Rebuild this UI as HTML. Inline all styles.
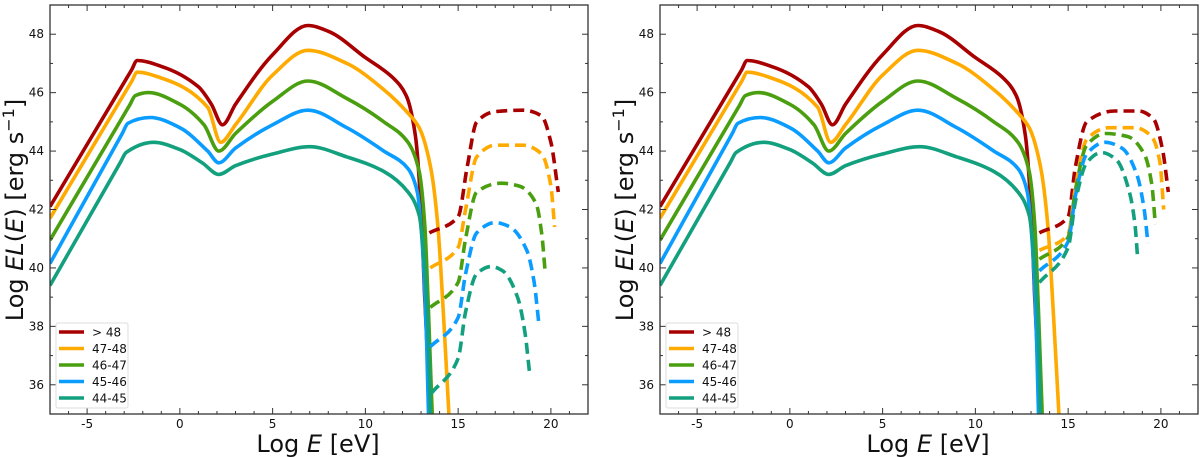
<!DOCTYPE html>
<html><head><meta charset="utf-8"><style>
html,body{margin:0;padding:0;background:#fff;}
svg{display:block;font-family:"DejaVu Sans","Liberation Sans",sans-serif;}
</style></head><body>
<svg id="chart" width="1200" height="457" viewBox="0 0 1200 457" xmlns="http://www.w3.org/2000/svg"></svg>
<script>
const seriesNames = ["> 48","47-48","46-47","45-46","44-45"];
const colors = ["#a80000","#ffaa00","#4a9f10","#0a9cff","#12a07e"];
const xTicks = [-5,0,5,10,15,20];
const yTicks = [36,38,40,42,44,46,48];
const solidX = [
 [-7,-2.6,-2.3,-1,1,1.7,2.3,3,5,6.9,8,10,11.5,12.2,12.7,13.0,13.2,13.5],
 [-7,-2.6,-2.3,-1,1.5,2.2,3,5,6.9,9,11,12.3,12.9,13.5,13.9,14.2,14.5],
 [-7,-2.7,-2.4,-1.7,0,1.3,2.1,3,5,6.9,9,11,12.3,12.9,13.2,13.4,13.6],
 [-7,-3.1,-2.8,-1.6,0,1.5,2.1,3,5,6.9,9,11,12.3,12.8,13.1,13.3,13.4],
 [-7,-3.2,-2.9,-1.4,0,1.2,2.1,3,5,7,9,11,12.3,12.9,13.2,13.4,13.5]
];
const solidY = [
 [42.1,46.78,47.1,46.9,46.2,45.6,44.9,45.6,47.3,48.3,48.1,47.2,46.5,45.9,44.5,42.0,39.0,35],
 [41.7,46.38,46.7,46.5,45.5,44.3,44.9,46.6,47.45,47.0,46.1,45.3,44.8,43.5,41.5,38.5,35],
 [40.95,45.58,45.9,46.0,45.6,44.9,44.0,44.6,45.7,46.4,45.8,45.0,44.3,43.3,41.5,38.5,35],
 [40.15,44.61,44.95,45.15,44.8,44.0,43.6,44.1,44.9,45.4,44.8,44.0,43.4,42.6,40.5,37.5,35],
 [39.4,43.62,43.95,44.3,44.05,43.6,43.2,43.5,43.9,44.15,43.8,43.3,42.6,41.8,40.0,37.5,35]
];
const dashXL = [
 [13.45,15,15.5,16,17,18.5,19.5,20,20.4],
 [13.5,15,15.4,16,17,18.5,19.5,20,20.2],
 [13.5,15,15.4,16,17.3,18.3,19.2,19.5,19.7],
 [13.5,15,15.4,16,17,17.8,18.7,19.1,19.35],
 [13.55,15,15.4,16,16.8,17.4,18.2,18.6,18.85]
];
const dashYL = [
 [41.2,41.75,43.5,45.0,45.35,45.4,45.2,44.3,42.6],
 [40.0,40.7,42.0,43.8,44.2,44.2,43.9,42.8,41.4],
 [38.65,39.5,41.0,42.6,42.9,42.8,42.2,41.2,39.8],
 [37.3,38.3,39.8,41.2,41.55,41.4,40.6,39.5,38.1],
 [35.7,36.9,38.5,39.8,40.05,39.9,39.0,37.8,36.4]
];
const dashXR = [
 [13.45,15,15.4,16,17.5,18.8,19.6,20.1,20.4],
 [13.45,15,15.4,16,17.2,18.6,19.5,19.95,20.15],
 [13.45,15,15.4,16,17,18.2,19.1,19.5,19.7],
 [13.45,15,15.4,16,17,17.9,18.7,19.1,19.3],
 [13.45,15,15.4,16,16.8,17.6,18.3,18.6,18.75]
];
const dashYR = [
 [41.2,41.75,43.5,45.0,45.37,45.37,45.1,44.0,42.6],
 [40.6,41.15,42.8,44.4,44.8,44.8,44.5,43.6,42.0],
 [40.3,41.05,42.7,44.2,44.6,44.5,43.9,42.9,41.5],
 [39.9,40.9,42.5,43.9,44.3,44.1,43.2,42.0,40.85],
 [39.5,40.7,42.3,43.6,43.95,43.7,42.6,41.5,40.3]
];

const NS="http://www.w3.org/2000/svg";
const svg=document.getElementById('chart');
function mk(tag,attrs,parent){const e=document.createElementNS(NS,tag);for(const k in attrs)e.setAttribute(k,attrs[k]);(parent||svg).appendChild(e);return e;}
const XMIN=-7,XMAX=22,YMIN=35,YMAX=49,W=538,TOP=5,H=409;
function pathD(xs,ys,sx,sy){
  const X=xs.map(sx),Y=ys.map(sy),n=X.length;
  const d=[],m=new Array(n);
  for(let i=0;i<n-1;i++)d.push((Y[i+1]-Y[i])/(X[i+1]-X[i]));
  m[0]=d[0];m[n-1]=d[n-2];
  for(let i=1;i<n-1;i++){
    if(d[i-1]*d[i]<=0)m[i]=0;
    else{const h0=X[i]-X[i-1],h1=X[i+1]-X[i];const w1=2*h1+h0,w2=h1+2*h0;m[i]=(w1+w2)/(w1/d[i-1]+w2/d[i]);}
  }
  let s="M"+X[0].toFixed(1)+","+Y[0].toFixed(1);
  for(let i=0;i<n-1;i++){
    const h=(X[i+1]-X[i])/3;
    s+=" C"+(X[i]+h).toFixed(1)+","+(Y[i]+m[i]*h).toFixed(1)+" "+(X[i+1]-h).toFixed(1)+","+(Y[i+1]-m[i+1]*h).toFixed(1)+" "+X[i+1].toFixed(1)+","+Y[i+1].toFixed(1);
  }
  return s;
}
function panel(left,dx,dy,pname){
  const g=mk('g',{});
  
  
  const sx=x=>left+(x-XMIN)/(XMAX-XMIN)*W;
  const sy=y=>TOP+(YMAX-y)/(YMAX-YMIN)*H;
  const clip=mk('clipPath',{id:'clip-'+pname},g);
  mk('rect',{x:left,y:TOP,width:W,height:H},clip);
  const plot=mk('g',{'clip-path':'url(#clip-'+pname+')'},g);
  for(let s=0;s<5;s++){
    const sl=mk('path',{d:pathD(solidX[s],solidY[s],sx,sy),fill:'none',stroke:colors[s],'stroke-width':3.6,'stroke-linejoin':'round'},plot);
    
    
  }
  for(let s=0;s<5;s++){
    const dl=mk('path',{d:pathD(dx[s],dy[s],sx,sy),fill:'none',stroke:colors[s],'stroke-width':3.6,'stroke-dasharray':'11,6'},plot);
    
    
  }
  const fr=mk('rect',{x:left,y:TOP,width:W,height:H,fill:'none',stroke:'#333','stroke-width':1.3},g);
  
  
  for(let x=-6;x<=22;x++){
    const X=sx(x);const major=xTicks.includes(x);const L=major?6:3;
    mk('line',{x1:X,x2:X,y1:TOP+H,y2:TOP+H-L,stroke:'#333','stroke-width':1},g);
    mk('line',{x1:X,x2:X,y1:TOP,y2:TOP+L,stroke:'#333','stroke-width':1},g);
  }
  xTicks.forEach(x=>{const t=mk('text',{x:sx(x),y:428,'text-anchor':'middle','font-size':12,fill:'#111'},g);t.textContent=x;
    });
  for(let y=36;y<=48;y++){
    const Y=sy(y);const major=yTicks.includes(y);const L=major?6:3;
    mk('line',{x1:left,x2:left+L,y1:Y,y2:Y,stroke:'#333','stroke-width':1},g);
    mk('line',{x1:left+W,x2:left+W-L,y1:Y,y2:Y,stroke:'#333','stroke-width':1},g);
  }
  yTicks.forEach(y=>{const t=mk('text',{x:left-6,y:sy(y)+4,'text-anchor':'end','font-size':12,fill:'#111'},g);t.textContent=y;
    });
  const xl=mk('text',{x:left+268,y:452,'text-anchor':'middle','font-size':24,fill:'#111'},g);
  xl.innerHTML='Log <tspan font-style="italic">E</tspan> [eV]';
  
  const yl=mk('text',{transform:'translate('+(left-27)+',210) rotate(-90)','text-anchor':'middle','font-size':24,fill:'#111'},g);
  yl.innerHTML='Log <tspan font-style="italic">EL</tspan>(<tspan font-style="italic">E</tspan>) [erg s<tspan dy="-9" font-size="16">−1</tspan><tspan dy="9">]</tspan>';
  
  const lg=mk('g',{},g);
  
  mk('rect',{x:left+6,y:323,width:72,height:85,fill:'#fff',stroke:'#ddd','stroke-width':1,rx:2},lg);
  seriesNames.forEach((n,i)=>{
    const yy=332+i*16.5;
    const e=mk('g',{},lg);
    
    mk('line',{x1:left+9,x2:left+34,y1:yy,y2:yy,stroke:colors[i],'stroke-width':3.6},e);
    const t=mk('text',{x:left+42,y:yy+4.5,'font-size':12,fill:'#111'},e);t.textContent=n;
  });
}
panel(50,dashXL,dashYL,'left-panel');
panel(660,dashXR,dashYR,'right-panel');
</script>
</body></html>
